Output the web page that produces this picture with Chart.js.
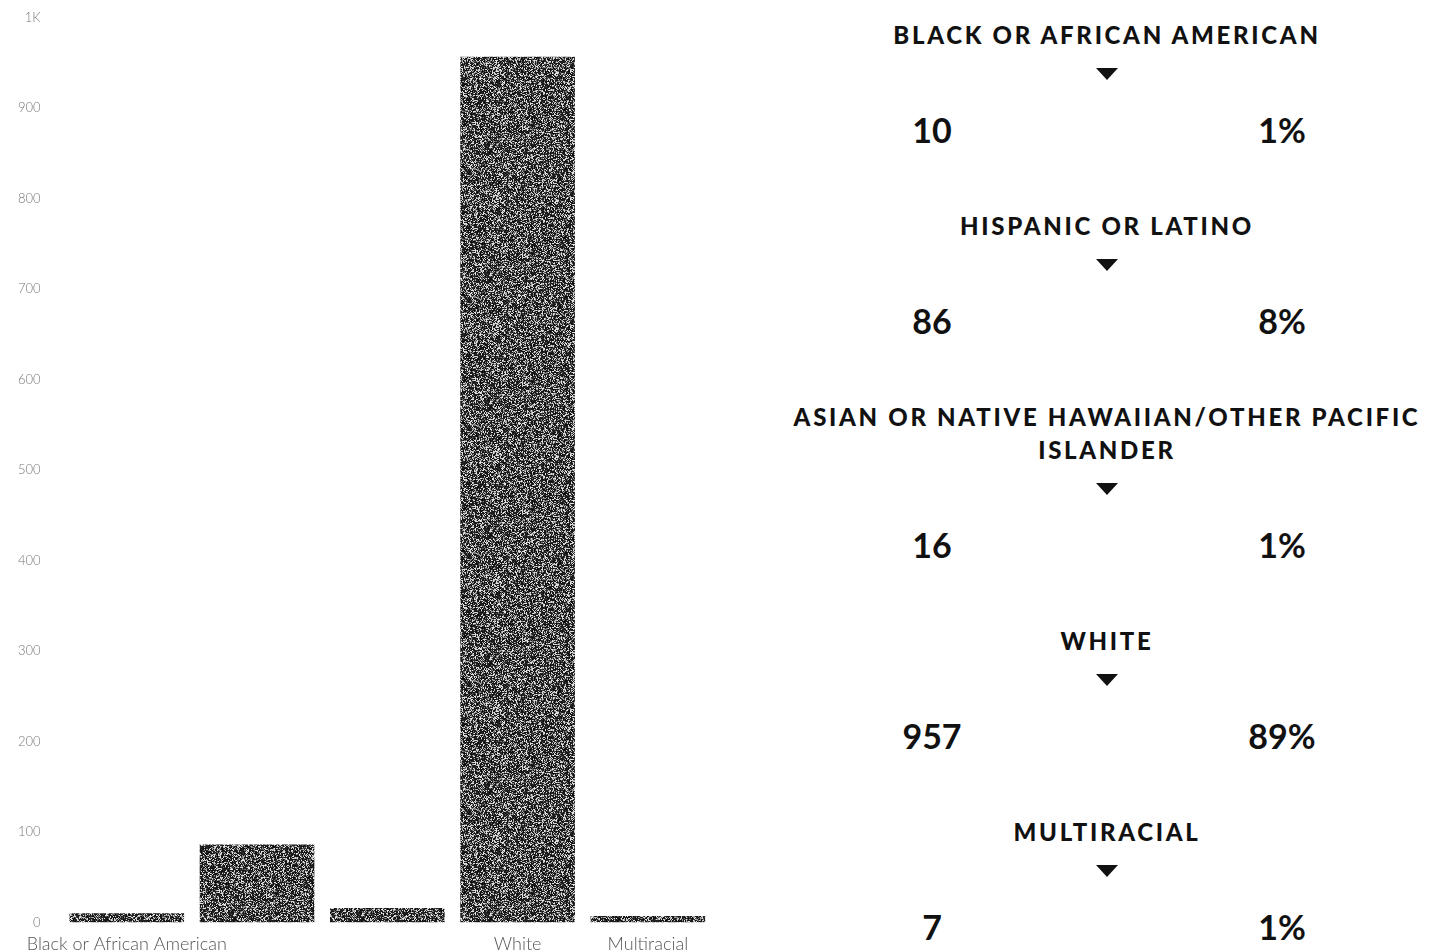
<!DOCTYPE html>
<html>
<head>
<meta charset="utf-8">
<script src="https://cdn.jsdelivr.net/npm/chart.js@4.4.1/dist/chart.umd.min.js"></script>
<style>
    html, body { margin: 0; padding: 0; background: #fff; }
    body { width: 1437px; height: 950px; position: relative; overflow: hidden; font-family: Lato, sans-serif; }
    #chart-box { position: absolute; left: 0; top: -3px; width: 716px; height: 961px; }
    #breakdown { position: absolute; left: 777px; top: 18px; width: 660px; color: #111; }
    .group-name {
        text-align: center; text-transform: uppercase; font-weight: 900;
        font-size: 24px; line-height: 33px; letter-spacing: 2.7px;
    }
    .arrow {
        width: 0; height: 0; margin: 17px auto 0;
        border-left: 11px solid transparent; border-right: 11px solid transparent;
        border-top: 12px solid #111;
    }
    .numbers { position: relative; height: 40px; margin: 30px 0 59px; font-weight: 700; font-size: 34px; line-height: 40px; }
    .numbers span { position: absolute; top: 0; width: 160px; text-align: center; }
    .numbers .count { left: 75px; }
    .numbers .pct { left: 425px; }
</style>
</head>
<body>
<div id="chart-box"><canvas id="chart"></canvas></div>
<div id="breakdown"></div>
<script>
const categories = [
    'Black or African American',
    'Hispanic or Latino',
    'Asian or Native Hawaiian/Other Pacific Islander',
    'White',
    'Multiracial'
];
const counts = [10, 86, 16, 957, 7];
const percents = [1, 8, 1, 89, 1];
const y_ticks = [0, 100, 200, 300, 400, 500, 600, 700, 800, 900, 1000];
// only these category labels fit under the axis
const shown_labels = [0, 3, 4];

function hash(x, y){
    let h = (x * 374761393 + y * 668265263) | 0;
    h = Math.imul(h ^ (h >>> 13), 1274126177);
    return ((h ^ (h >>> 16)) >>> 0) % 1000;
}

// grainy dark fill for the bars
function grainPattern(){
    let size = 128;
    let c = document.createElement('canvas');
    c.width = size;
    c.height = size;
    let g = c.getContext('2d');
    let img = g.createImageData(size, size);
    for(let y = 0; y < size; y++){
        for(let x = 0; x < size; x++){
            // neighbouring pixels share a coarse value so specks clump a little
            let r = (hash(x, y) + hash(x >> 1, y >> 1)) % 1000;
            let v = r < 560 ? 10 + r % 35 : (r < 850 ? 70 + (r - 560) / 2 : 225);
            let i = (y * size + x) * 4;
            img.data[i] = v;
            img.data[i + 1] = v;
            img.data[i + 2] = v;
            img.data[i + 3] = 255;
        }
    }
    g.putImageData(img, 0, 0);
    return g.createPattern(c, 'repeat');
}

new Chart(document.getElementById('chart'), {
    type: 'bar',
    data: {
        labels: categories,
        datasets: [{
            data: counts,
            backgroundColor: grainPattern(),
            borderWidth: 0,
            barPercentage: 0.88,
            categoryPercentage: 1
        }]
    },
    options: {
        responsive: true,
        maintainAspectRatio: false,
        animation: false,
        layout: { padding: { left: 5, top: 0, right: 3, bottom: 0 } },
        plugins: { legend: { display: false }, tooltip: { enabled: false } },
        scales: {
            x: {
                grid: { display: false },
                border: { display: false },
                ticks: {
                    autoSkip: false,
                    maxRotation: 0,
                    padding: 3,
                    color: '#555',
                    font: { family: 'Lato', size: 18, weight: 300 },
                    callback: function(value, index){
                        return shown_labels.includes(index) ? categories[index] : '';
                    }
                }
            },
            y: {
                min: y_ticks[0],
                max: y_ticks[y_ticks.length - 1],
                grid: { display: false },
                border: { display: false },
                afterBuildTicks: axis => { axis.ticks = y_ticks.map(v => ({ value: v })); },
                ticks: {
                    padding: 13,
                    color: '#777',
                    font: { family: 'Lato', size: 13, weight: 300 },
                    callback: v => v >= 1000 ? (v / 1000) + 'K' : v
                }
            }
        }
    }
});

// right hand breakdown list
let breakdown = document.getElementById('breakdown');
categories.forEach((name, i) => {
    let title = document.createElement('div');
    title.className = 'group-name';
    title.textContent = name;
    breakdown.appendChild(title);

    let arrow = document.createElement('div');
    arrow.className = 'arrow';
    breakdown.appendChild(arrow);

    let row = document.createElement('div');
    row.className = 'numbers';
    row.innerHTML = '<span class="count">' + counts[i] + '</span><span class="pct">' + percents[i] + '%</span>';
    breakdown.appendChild(row);
});
</script>
</body>
</html>
